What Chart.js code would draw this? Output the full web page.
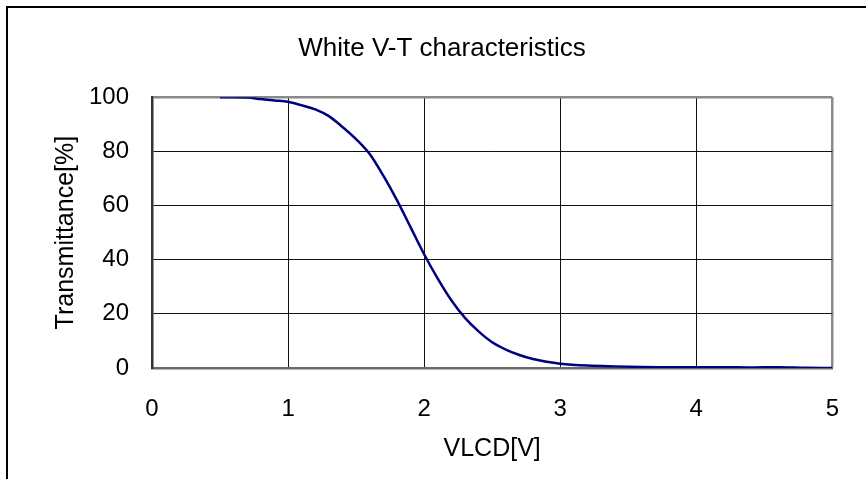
<!DOCTYPE html>
<html>
<head>
<meta charset="utf-8">
<script src="https://cdn.jsdelivr.net/npm/chart.js@4"></script>
<style>
    html, body { margin: 0; padding: 0; background: #fff; }
    #wrap { position: relative; width: 866px; height: 479px; overflow: hidden; }
    #frame {
        position: absolute; left: 6px; top: 6px; width: 858px; height: 480px;
        border-top: 2px solid #000; border-left: 2px solid #000; border-right: 1px solid #000;
        pointer-events: none;
    }
    canvas { position: absolute; left: 0; top: 0; }
</style>
</head>
<body>
<div id="wrap">
    <canvas id="vtChart" width="866" height="479"></canvas>
    <div id="frame"></div>
</div>
<script>
const voltage = [0.5, 0.6, 0.7, 0.8, 0.9, 1.0, 1.1, 1.2, 1.3, 1.4, 1.5, 1.6, 1.7, 1.8, 1.9, 2.0,
    2.1, 2.2, 2.3, 2.4, 2.5, 2.6, 2.7, 2.8, 2.9, 3.0, 3.2, 3.4, 3.6, 3.8, 4.0, 4.2, 4.4, 4.6, 4.8, 5.0];
const transmittance = [100, 100, 99.9, 99.3, 98.8, 98.3, 97, 95.5, 93, 89, 84.5, 79, 71, 62, 52, 42,
    33, 25, 18.5, 13.5, 9.5, 6.8, 4.8, 3.3, 2.3, 1.6, 0.9, 0.6, 0.4, 0.3, 0.3, 0.3, 0.2, 0.3, 0.1, 0];
const xTicks = [0, 1, 2, 3, 4, 5];
const yTicks = [0, 20, 40, 60, 80, 100];

const FONT = "'Liberation Sans', Arial, sans-serif";

document.addEventListener('DOMContentLoaded', function () {
    initVtChart();
});

function initVtChart() {
    const canvas = document.getElementById('vtChart');
    if (!canvas || typeof Chart === 'undefined') return;

    const points = voltage.map((v, i) => ({ x: v, y: transmittance[i] }));

    new Chart(canvas.getContext('2d'), {
        type: 'line',
        data: {
            datasets: [{
                data: points,
                borderColor: '#000080',
                borderWidth: 2.5,
                pointRadius: 0,
                fill: false,
                cubicInterpolationMode: 'monotone'
            }]
        },
        options: {
            responsive: false,
            animation: false,
            layout: { padding: { left: 18, right: 0, top: 0, bottom: 0 } },
            plugins: {
                legend: { display: false },
                tooltip: { enabled: false },
                title: {
                    display: true,
                    text: 'White V-T characteristics',
                    color: '#000',
                    font: { family: FONT, size: 26, weight: 'normal' },
                    padding: { top: 33, bottom: 33 }
                }
            },
            scales: {
                x: {
                    type: 'linear',
                    min: 0,
                    max: 5,
                    afterBuildTicks: (scale) => { scale.ticks = xTicks.map(v => ({ value: v })); },
                    afterFit: (scale) => { scale.height = 111; },
                    ticks: {
                        color: '#000',
                        padding: 27,
                        font: { family: FONT, size: 24 }
                    },
                    grid: {
                        drawTicks: false,
                        color: (ctx) => ctx.tick && ctx.tick.value === 5 ? '#8a8a8a' : '#111',
                        lineWidth: (ctx) => ctx.tick && ctx.tick.value === 5 ? 2.5 : 1
                    },
                    border: { color: '#6a6a6a', width: 2.5 },
                    title: {
                        display: true,
                        text: 'VLCD[V]',
                        color: '#000',
                        font: { family: FONT, size: 25 },
                        padding: { top: 0, bottom: 15 }
                    }
                },
                y: {
                    min: 0,
                    max: 100,
                    afterBuildTicks: (scale) => { scale.ticks = yTicks.map(v => ({ value: v })); },
                    afterFit: (scale) => { scale.width = 134; },
                    ticks: {
                        color: '#000',
                        padding: 23,
                        font: { family: FONT, size: 24 }
                    },
                    grid: {
                        drawTicks: false,
                        color: (ctx) => ctx.tick && ctx.tick.value === 100 ? '#8a8a8a' : '#111',
                        lineWidth: (ctx) => ctx.tick && ctx.tick.value === 100 ? 2.5 : 1
                    },
                    border: { color: '#333', width: 2.5 },
                    title: {
                        display: true,
                        text: 'Transmittance[%]',
                        color: '#000',
                        font: { family: FONT, size: 25 },
                        padding: { top: 33, bottom: 0 }
                    }
                },
                spacer: {
                    position: 'right',
                    display: true,
                    afterFit: (scale) => { scale.width = 30; },
                    ticks: { display: false },
                    grid: { display: false },
                    border: { display: false }
                }
            }
        }
    });
}
</script>
</body>
</html>
